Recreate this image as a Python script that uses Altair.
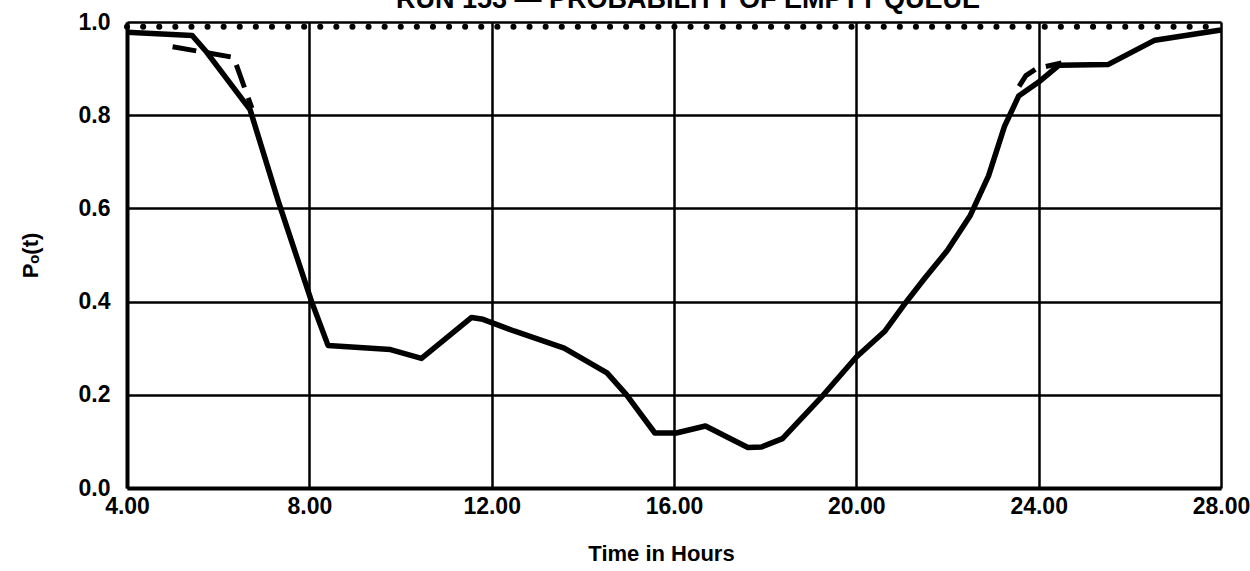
import altair as alt
import pandas as pd

# Solid curve
solid_x = [4.0, 5.43, 5.75, 6.70, 7.32, 8.05, 8.41, 9.78, 10.46, 11.56, 11.81, 12.49,
           13.59, 14.53, 14.95, 15.58, 16.05, 16.69, 17.62, 17.92, 18.38, 19.27, 20.0,
           20.63, 21.03, 21.5, 22.0, 22.5, 22.9, 23.25, 23.56, 24.0, 24.44, 25.53, 26.55, 28.0]
solid_y = [0.978, 0.971, 0.935, 0.812, 0.615, 0.40, 0.306, 0.297, 0.278, 0.366, 0.362, 0.337,
           0.300, 0.247, 0.201, 0.118, 0.118, 0.133, 0.087, 0.088, 0.106, 0.199, 0.281,
           0.337, 0.391, 0.45, 0.51, 0.585, 0.67, 0.776, 0.841, 0.871, 0.907, 0.909, 0.961, 0.983]

# Dashed segments
dash_left_x = [5.0, 6.34, 6.74]
dash_left_y = [0.947, 0.924, 0.815]
dash_right_x = [23.57, 23.72, 23.95, 24.5]
dash_right_y = [0.862, 0.885, 0.900, 0.912]

# Dotted reference
dot_x = [4.0, 28.0]
dot_y = [0.99, 0.99]

x_ticks = [4, 8, 12, 16, 20, 24, 28]
y_ticks = [0.0, 0.2, 0.4, 0.6, 0.8, 1.0]

title_text = ["RUN 153 \u2014 PROBABILITY OF EMPTY QUEUE"]

FONT = "Liberation Sans"

solid_df = pd.DataFrame({"t": solid_x, "p": solid_y})
dl_df = pd.DataFrame({"t": dash_left_x, "p": dash_left_y, "seg": "a"})
dr_df = pd.DataFrame({"t": dash_right_x, "p": dash_right_y, "seg": "b"})
dash_df = pd.concat([dl_df, dr_df], ignore_index=True)
dot_df = pd.DataFrame({"t": dot_x, "p": dot_y})
title_df = pd.DataFrame({"txt": title_text})

xscale = alt.Scale(domain=[4, 28], nice=False, zero=False)
yscale = alt.Scale(domain=[0, 1], nice=False)

xaxis = alt.Axis(values=x_ticks, format=".2f", title="Time in Hours", grid=True,
                 gridColor="black", gridWidth=2.5, gridOpacity=1, ticks=False,
                 domainColor="black", domainWidth=4, labelFlush=False,
                 labelFont=FONT, labelFontSize=23, labelFontWeight="bold", labelColor="black",
                 labelPadding=7, titleFont=FONT, titleFontSize=22, titleFontWeight="bold",
                 titleColor="black", titlePadding=25, titleX=534)
yaxis = alt.Axis(values=y_ticks, format=".1f", title="P\u2092(t)", grid=True,
                 gridColor="black", gridWidth=2.5, gridOpacity=1, ticks=False,
                 domainColor="black", domainWidth=4, labelFlush=False,
                 labelFont=FONT, labelFontSize=23, labelFontWeight="bold", labelColor="black",
                 labelPadding=17, titleFont=FONT, titleFontSize=22, titleFontWeight="bold",
                 titleColor="black", titlePadding=36)

base_solid = alt.Chart(solid_df).mark_line(color="black", strokeWidth=5.5, strokeJoin="round").encode(
    x=alt.X("t:Q", scale=xscale, axis=xaxis),
    y=alt.Y("p:Q", scale=yscale, axis=yaxis),
)

dashed = alt.Chart(dash_df).mark_line(color="black", strokeWidth=5, strokeDash=[24, 11]).encode(
    x=alt.X("t:Q", scale=xscale),
    y=alt.Y("p:Q", scale=yscale),
    detail="seg:N",
)

dotted = alt.Chart(dot_df).mark_line(color="black", strokeWidth=6, strokeDash=[0.1, 16],
                                     strokeCap="round").encode(
    x=alt.X("t:Q", scale=xscale),
    y=alt.Y("p:Q", scale=yscale),
)

title = alt.Chart(title_df).mark_text(font=FONT, fontSize=27, fontWeight="bold", color="black",
                                      align="center", baseline="alphabetic").encode(
    x=alt.value(561), y=alt.value(-14), text="txt:N"
)

chart = alt.layer(base_solid, dashed, dotted, title).properties(
    width=1094, height=466,
    autosize=alt.AutoSizeParams(type="none"),
    padding={"left": 127, "top": 22, "right": 29, "bottom": 83},
).configure_view(stroke="black", strokeWidth=3).configure(background="white")

chart.save("out.html", embed_options={"renderer": "svg", "actions": False})
